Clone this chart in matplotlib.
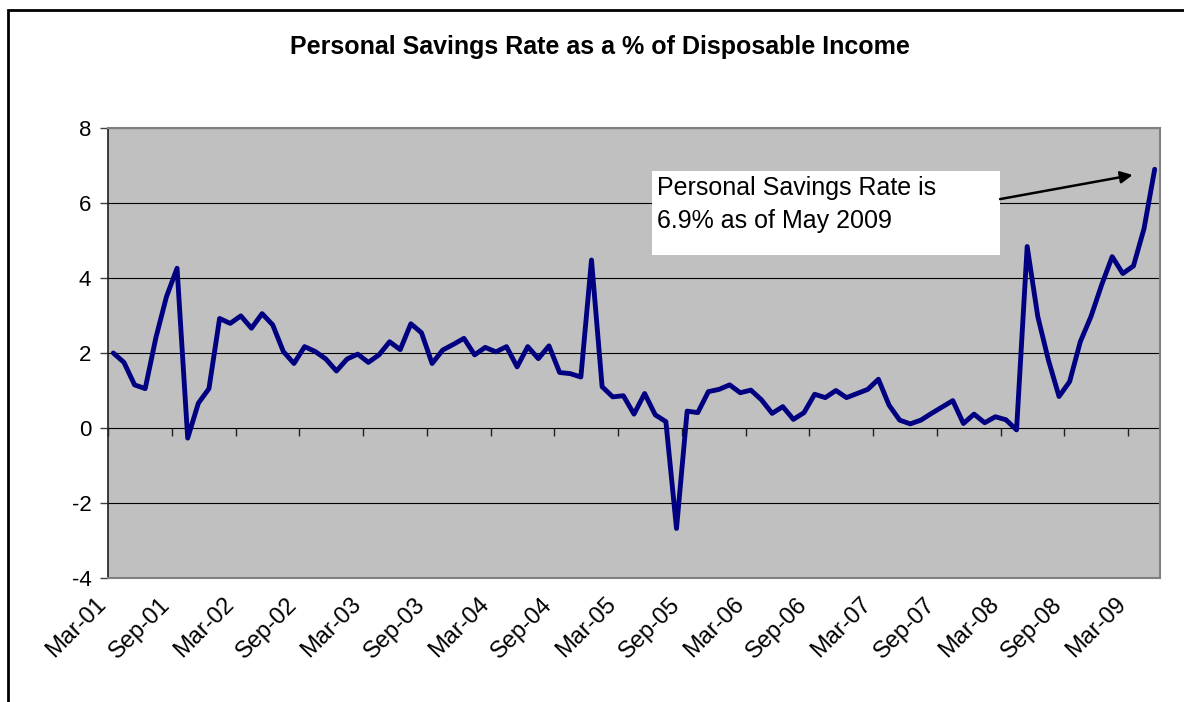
import matplotlib
matplotlib.use("Agg")
import matplotlib.pyplot as plt
import matplotlib.transforms as mtransforms
from matplotlib.patches import Rectangle

plt.rcParams['font.family'] = ['Liberation Sans', 'DejaVu Sans']

# Monthly personal savings rate, Mar-2001 .. May-2009
savings_rate = [
    2.0, 1.75, 1.15, 1.05, 2.4, 3.5, 4.26, -0.27, 0.66, 1.05,          # Mar-01 .. Dec-01
    2.92, 2.79, 2.99, 2.66, 3.05, 2.75, 2.04, 1.72, 2.17, 2.04, 1.84, 1.52,  # 2002
    1.84, 1.97, 1.75, 1.95, 2.3, 2.09, 2.78, 2.54, 1.72, 2.08, 2.23, 2.39,   # 2003
    1.95, 2.15, 2.03, 2.17, 1.63, 2.17, 1.85, 2.19, 1.48, 1.45, 1.36, 4.48,  # 2004
    1.1, 0.83, 0.86, 0.37, 0.92, 0.35, 0.17, -2.68, 0.45, 0.41, 0.97, 1.03,  # 2005
    1.15, 0.94, 1.01, 0.75, 0.39, 0.57, 0.23, 0.41, 0.9, 0.81, 1.0, 0.81,    # 2006
    0.92, 1.03, 1.3, 0.61, 0.21, 0.11, 0.21, 0.39, 0.56, 0.73, 0.12, 0.37,   # 2007
    0.14, 0.3, 0.22, -0.05, 4.84, 2.97, 1.81, 0.84, 1.24, 2.3, 2.97, 3.81,   # 2008
    4.57, 4.12, 4.32, 5.32, 6.9,                                             # 2009
]
tick_labels = ["Mar-01", "Sep-01", "Mar-02", "Sep-02", "Mar-03", "Sep-03",
               "Mar-04", "Sep-04", "Mar-05", "Sep-05", "Mar-06", "Sep-06",
               "Mar-07", "Sep-07", "Mar-08", "Sep-08", "Mar-09"]
y_ticks = [-4, -2, 0, 2, 4, 6, 8]

months = list(range(len(savings_rate)))

fig = plt.figure(figsize=(11.84, 7.02), dpi=100)
ax = fig.add_axes([108 / 1184, 1 - 578 / 702, 1052 / 1184, 450 / 702])

# outer chart border (black frame, right/bottom run off the picture)
fig.patches.append(Rectangle((8 / 1184, -0.05), 1.1, 1 - 10 / 702 + 0.05,
                             transform=fig.transFigure, fill=False,
                             edgecolor='black', linewidth=2, zorder=10))

ax.set_facecolor('#C0C0C0')
ax.plot(months, savings_rate, color='#000080', linewidth=3.5,
        solid_joinstyle='round', solid_capstyle='round', zorder=3)

ax.set_xlim(-0.5, len(savings_rate) - 0.5)
ax.set_ylim(-4, 8)
ax.set_yticks(y_ticks)
ax.set_yticklabels([str(v) for v in y_ticks], fontsize=16)
ax.yaxis.grid(True, color='black', linewidth=0.8)
ax.set_axisbelow(True)

tick_pos = [k * 6 - 0.5 for k in range(len(tick_labels))]
ax.set_xticks(tick_pos)
ax.set_xticklabels(tick_labels, rotation=45, ha='right', va='top',
                   rotation_mode='anchor', fontsize=17)
ax.tick_params(axis='x', length=0, pad=11)
ax.tick_params(axis='y', length=6, width=1, color='#404040', direction='out', pad=6)
shift = mtransforms.ScaledTranslation(-0.13, 0, fig.dpi_scale_trans)
for lab in ax.get_xticklabels():
    lab.set_transform(lab.get_transform() + shift)

for side in ['top', 'right', 'bottom']:
    ax.spines[side].set_color('#808080')
    ax.spines[side].set_linewidth(1.5)
ax.spines['left'].set_color('#202020')
ax.spines['left'].set_linewidth(1.2)

# category axis crosses at zero, with tick marks pointing down
sec = ax.secondary_xaxis(4 / 12)
sec.set_zorder(2)
sec.set_xticks(tick_pos)
sec.set_xticklabels([])
sec.tick_params(axis='x', length=6, width=1, color='#202020', direction='out')
sec.spines['bottom'].set_visible(False)

fig.text(0.507, 0.933, "Personal Savings Rate as a % of Disposable Income",
         fontsize=18, fontweight='bold', ha='center', va='center')

# annotation box
ax.add_patch(Rectangle((0.517, 0.718), 0.331, 0.186, transform=ax.transAxes,
                       facecolor='white', edgecolor='none', zorder=4))
ax.text(0.522, 0.893, "Personal Savings Rate is\n6.9% as of May 2009",
        transform=ax.transAxes, fontsize=18, ha='left', va='top',
        linespacing=1.45, zorder=5)
ax.annotate("", xy=(0.974, 0.8956), xycoords='axes fraction',
            xytext=(0.848, 0.842), textcoords='axes fraction',
            arrowprops=dict(arrowstyle='-|>', color='black', lw=1.8,
                            mutation_scale=18, shrinkA=0, shrinkB=0),
            zorder=5)

fig.savefig("out.png", dpi=100)
